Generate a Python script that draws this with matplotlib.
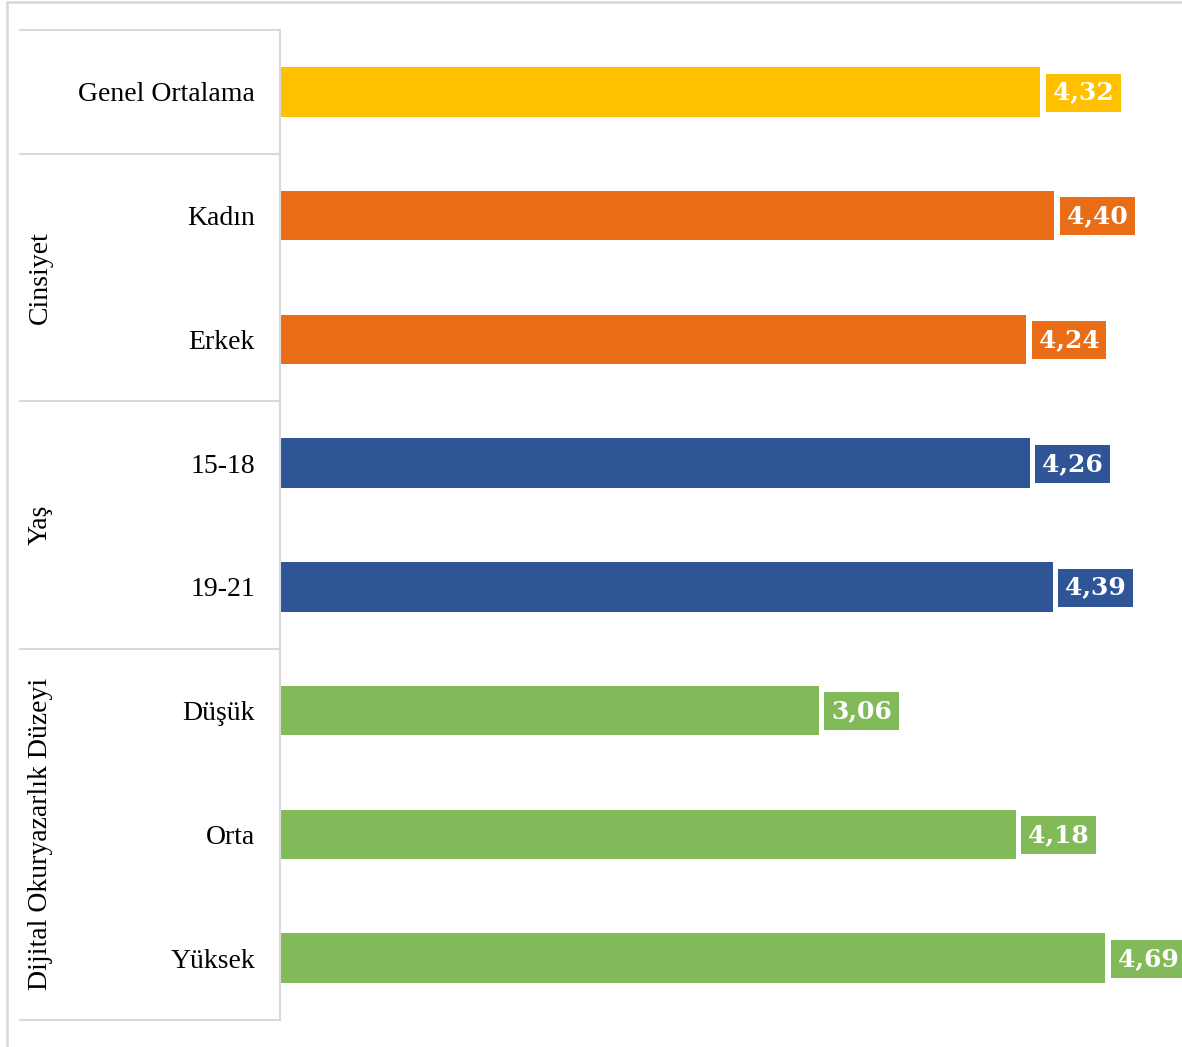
import numpy as np
import matplotlib.pyplot as plt
from matplotlib.lines import Line2D

# data
categories = [ 'Genel Ortalama', 'Kadın', 'Erkek', '15-18', '19-21', 'Düşük', 'Orta', 'Yüksek' ]
values     = [ 4.32, 4.40, 4.24, 4.26, 4.39, 3.06, 4.18, 4.69 ]
groups     = [ 'Genel', 'Cinsiyet', 'Cinsiyet', 'Yaş', 'Yaş',
               'Dijital Okuryazarlık Düzeyi', 'Dijital Okuryazarlık Düzeyi', 'Dijital Okuryazarlık Düzeyi' ]
groupLabels = [ 'Cinsiyet', 'Yaş', 'Dijital Okuryazarlık Düzeyi' ]
groupColors = { 'Genel' : '#FFC000', 'Cinsiyet' : '#E96C17', 'Yaş' : '#2F5597',
                'Dijital Okuryazarlık Düzeyi' : '#82BA5A' }

plt.rcParams['font.family'] = [ 'Liberation Serif', 'DejaVu Serif' ]
gridColor = '#D9D9D9'

W, H = 1182, 1047
fig = plt.figure( figsize = ( W / 100, H / 100 ), dpi = 100 )
left, right, top, bottom = 280, 1182, 30, 1020
ax = fig.add_axes( [ left / W, ( H - bottom ) / H, ( right - left ) / W, ( bottom - top ) / H ] )

y = np.arange( len( categories ) )
colors = [ groupColors[g] for g in groups ]
ax.barh( y, values, height = 0.40, color = colors )

ax.set_xlim( 0, ( right - left ) / 176.0 )
ax.set_ylim( len( categories ) - 0.5, -0.5 )

for yi, v, c in zip( y, values, colors ):
    ax.annotate( f'{v:.2f}'.replace( '.', ',' ), ( v, yi ), xytext = ( 9, -0.5 ),
                 textcoords = 'offset points', ha = 'left', va = 'center',
                 color = 'white', fontsize = 18, fontweight = 'bold', family = 'DejaVu Serif',
                 bbox = dict( boxstyle = 'square,pad=0.28', fc = c, ec = 'none' ) )

ax.set_yticks( y )
ax.set_yticklabels( categories, fontsize = 20 )
ax.tick_params( axis = 'y', length = 0, pad = 18 )
ax.tick_params( axis = 'x', bottom = False, labelbottom = False )
for s in [ 'top', 'right', 'bottom' ]:
    ax.spines[s].set_visible( False )
ax.spines['left'].set_color( gridColor )
ax.spines['left'].set_linewidth( 1.5 )

# table lines of the category axis
trans = ax.get_yaxis_transform()
xStart = ( 20 - left ) / ( right - left )
bounds = [ -0.5 ]
for i in range( 1, len( groups ) ):
    if groups[i] != groups[i - 1]:
        bounds.append( i - 0.5 )
bounds.append( len( groups ) - 0.5 )
for b in bounds:
    ax.add_line( Line2D( [ xStart, 0 ], [ b, b ], transform = trans, color = gridColor,
                         linewidth = 1.5, clip_on = False ) )

xGroup = ( 40 - left ) / ( right - left )
for g in groupLabels:
    idx = [ i for i, gg in enumerate( groups ) if gg == g ]
    ax.text( xGroup, np.mean( idx ), g, transform = trans, rotation = 90,
             ha = 'center', va = 'center', fontsize = 20 )

# outer border (top and left only)
fig.add_artist( Line2D( [ 7 / W, 7 / W, 1 ], [ 0, 1 - 1.5 / H, 1 - 1.5 / H ],
                        transform = fig.transFigure, color = gridColor, linewidth = 2 ) )

fig.savefig( 'out.png', dpi = 100 )
